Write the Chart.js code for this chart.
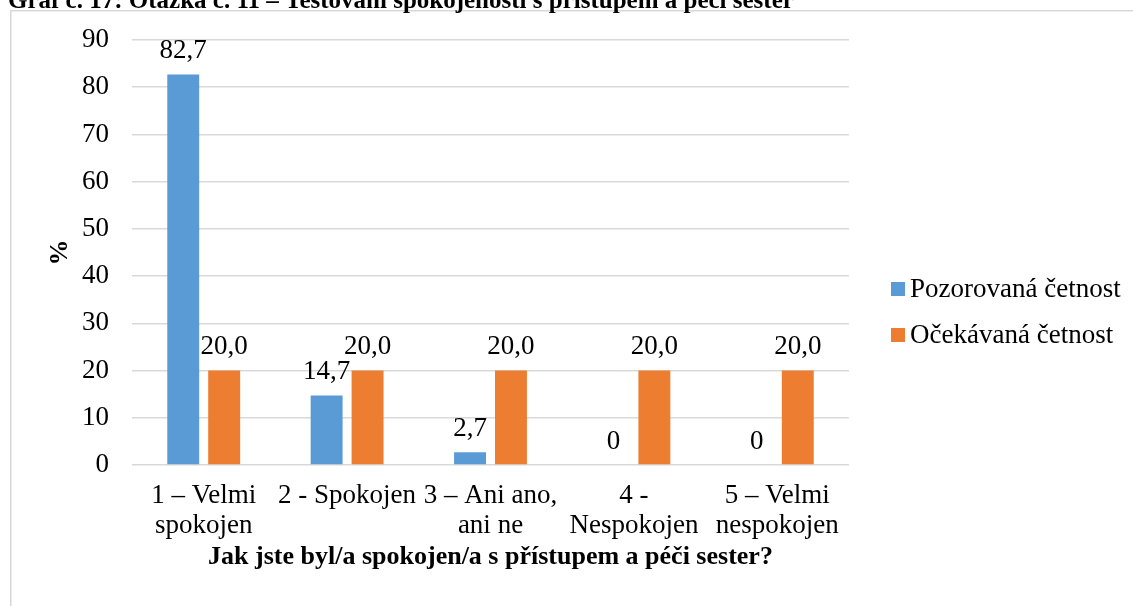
<!DOCTYPE html>
<html>
<head>
<meta charset="utf-8">
<script src="https://cdn.jsdelivr.net/npm/chart.js@4/dist/chart.umd.min.js"></script>
<style>
html,body{margin:0;padding:0;background:#fff;}
#wrap{position:relative;width:1133px;height:606px;}
</style>
</head>
<body>
<div id="wrap"><canvas id="c" width="1133" height="606"></canvas></div>
<script>
const categories = [
  ["1 – Velmi", "spokojen"],
  ["2 - Spokojen"],
  ["3 – Ani ano,", "ani ne"],
  ["4 -", "Nespokojen"],
  ["5 – Velmi", "nespokojen"]
];
const observed = [82.7, 14.7, 2.7, 0, 0];
const expected = [20.0, 20.0, 20.0, 20.0, 20.0];
const seriesNames = ["Pozorovaná četnost", "Očekávaná četnost"];
const seriesColors = ["#5B9BD5", "#ED7D31"];
const yTicks = [0, 10, 20, 30, 40, 50, 60, 70, 80, 90];
const pageTitle = "Graf č. 17: Otázka č. 11 – Testování spokojenosti s přístupem a péčí sester";
const xTitle = "Jak jste byl/a spokojen/a s přístupem a péči sester?";
const yTitle = "%";

const SERIF = "'Liberation Serif', 'Times New Roman', serif";
const FS = 27;

function fmtObserved(v){ return Number.isInteger(v) ? String(v) : v.toFixed(1).replace('.', ','); }
function fmtExpected(v){ return v.toFixed(1).replace('.', ','); }

const frameAndLabels = {
  id: 'frameAndLabels',
  beforeDraw(chart){
    const ctx = chart.ctx;
    ctx.save();
    ctx.fillStyle = '#fff';
    ctx.fillRect(0,0,chart.width,chart.height);
    ctx.strokeStyle = '#d9d9d9';
    ctx.lineWidth = 1.5;
    ctx.beginPath();
    ctx.moveTo(10.75, chart.height + 5);
    ctx.lineTo(10.75, 10.75);
    ctx.lineTo(chart.width + 5, 10.75);
    ctx.stroke();
    ctx.fillStyle = '#000';
    ctx.font = "bold 25px " + SERIF;
    ctx.textBaseline = 'alphabetic';
    ctx.textAlign = 'left';
    ctx.fillText(pageTitle, 8, 8);
    ctx.restore();
  },
  afterDatasetsDraw(chart){
    const ctx = chart.ctx;
    ctx.save();
    ctx.fillStyle = '#000';
    ctx.font = FS + "px " + SERIF;
    ctx.textAlign = 'center';
    ctx.textBaseline = 'alphabetic';
    chart.data.datasets.forEach((ds, di) => {
      const meta = chart.getDatasetMeta(di);
      meta.data.forEach((bar, i) => {
        const v = ds.data[i];
        const txt = di === 0 ? fmtObserved(v) : fmtExpected(v);
        ctx.fillText(txt, bar.x, bar.y - 16.5);
      });
    });
    // legend
    const lx = chart.chartArea.right + 42;
    const ly0 = 289, dy = 46;
    ctx.textAlign = 'left';
    ctx.textBaseline = 'middle';
    chart.data.datasets.forEach((ds, di) => {
      const cy = ly0 + di * dy;
      ctx.fillStyle = ds.backgroundColor;
      ctx.fillRect(lx, cy - 7, 14, 14);
      ctx.fillStyle = '#000';
      ctx.fillText(ds.label, lx + 19, cy + 1);
    });
    ctx.restore();
  }
};

new Chart(document.getElementById('c'), {
  type: 'bar',
  data: {
    labels: categories,
    datasets: [
      { label: seriesNames[0], data: observed, backgroundColor: seriesColors[0], borderWidth: 0 },
      { label: seriesNames[1], data: expected, backgroundColor: seriesColors[1], borderWidth: 0 }
    ]
  },
  options: {
    responsive: false,
    animation: false,
    devicePixelRatio: 1,
    layout: { padding: { top: 40, bottom: 22, left: 0, right: 284 } },
    datasets: { bar: { categoryPercentage: 0.571, barPercentage: 0.78 } },
    plugins: {
      legend: { display: false },
      tooltip: { enabled: false },
      title: { display: false }
    },
    scales: {
      x: {
        grid: { display: false, drawTicks: false },
        border: { display: false },
        ticks: {
          color: '#000',
          font: { family: SERIF, size: FS, lineHeight: 1.11 },
          padding: 16,
          maxRotation: 0,
          autoSkip: false
        },
        title: {
          display: true,
          text: xTitle,
          color: '#000',
          font: { family: SERIF, size: 26, weight: 'bold', lineHeight: 1.2 },
          padding: { top: 0, bottom: 11 }
        },
        afterFit(scale){ scale.height = 119; }
      },
      y: {
        min: 0,
        max: 90,
        grid: { color: '#d9d9d9', lineWidth: 1.5, drawTicks: false },
        border: { display: false },
        afterBuildTicks(scale){ scale.ticks = yTicks.map(v => ({ value: v })); },
        ticks: {
          color: '#000',
          font: { family: SERIF, size: FS },
          padding: 23
        },
        title: {
          display: true,
          text: yTitle,
          color: '#000',
          font: { family: SERIF, size: 26, weight: 'bold', lineHeight: 1.2 },
          padding: { top: 45, bottom: 0 }
        },
        afterFit(scale){ scale.width = 132; }
      }
    }
  },
  plugins: [frameAndLabels]
});
</script>
</body>
</html>
